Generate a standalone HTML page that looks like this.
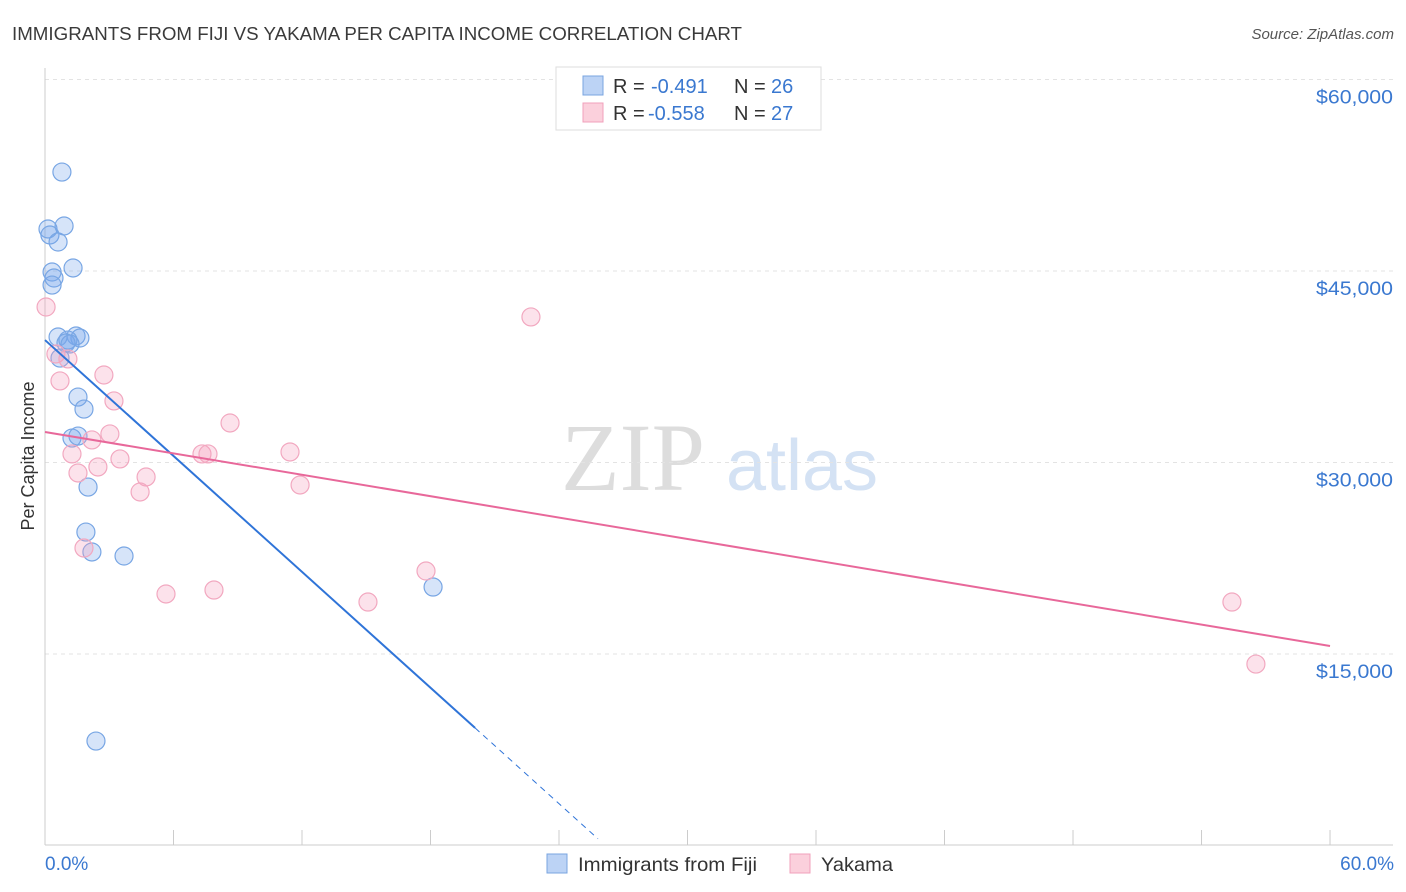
<!DOCTYPE html>
<html><head><meta charset="utf-8">
<style>
body{margin:0;background:#fff;font-family:"Liberation Sans",sans-serif;}
svg{display:block}
</style></head>
<body>
<svg id="chart" width="1406" height="892" xmlns="http://www.w3.org/2000/svg">
<text x="12" y="40" font-size="18" fill="#3a3a3a" textLength="730" lengthAdjust="spacingAndGlyphs">IMMIGRANTS FROM FIJI VS YAKAMA PER CAPITA INCOME CORRELATION CHART</text>
<text x="1394" y="39" font-size="15" font-style="italic" fill="#555" text-anchor="end">Source: ZipAtlas.com</text>
<g>
<text x="633" y="490" font-size="96" font-family="Liberation Serif" fill="#ddd" text-anchor="middle">ZIP</text>
<text x="802" y="490" font-size="72" fill="#d4e2f4" text-anchor="middle">atlas</text>
</g>
<g id="grid"></g>
<g id="axes"></g>
<g id="marks"></g>
<text transform="translate(34,456) rotate(-90)" font-size="18" fill="#333" text-anchor="middle">Per Capita Income</text>
<text x="45" y="870" font-size="19" fill="#3a78d0">0.0%</text>
<text x="1394" y="870" font-size="19" fill="#3a78d0" text-anchor="end">60.0%</text>
<g>
<rect x="556" y="67" width="265" height="63" fill="#fff" stroke="#ddd"/>
<rect x="583" y="76" width="20" height="19" fill="#bcd3f5" stroke="#7aa5e0"/>
<rect x="583" y="103" width="20" height="19" fill="#fbd0dc" stroke="#f0a0bb"/>
<text x="613" y="93" font-size="20" fill="#333">R =</text>
<text x="651" y="93" font-size="20" fill="#3a78d0">-0.491</text>
<text x="734" y="93" font-size="20" fill="#333">N =</text>
<text x="771" y="93" font-size="20" fill="#3a78d0">26</text>
<text x="613" y="120" font-size="20" fill="#333">R =</text>
<text x="648" y="120" font-size="20" fill="#3a78d0">-0.558</text>
<text x="734" y="120" font-size="20" fill="#333">N =</text>
<text x="771" y="120" font-size="20" fill="#3a78d0">27</text>
</g>
<g>
<rect x="547" y="854" width="20" height="19" fill="#bcd3f5" stroke="#7aa5e0"/>
<text x="578" y="871" font-size="19.5" fill="#333" textLength="179" lengthAdjust="spacingAndGlyphs">Immigrants from Fiji</text>
<rect x="790" y="854" width="20" height="19" fill="#fbd0dc" stroke="#f0a0bb"/>
<text x="821" y="871" font-size="19.5" fill="#333" textLength="72" lengthAdjust="spacingAndGlyphs">Yakama</text>
</g>
</svg>
<script>
const yTicks=[15000,30000,45000,60000];
const yTickLabels=["$15,000","$30,000","$45,000","$60,000"];
const xTicks=[0,6,12,18,24,30,36,42,48,54,60];
const fijiX=[0.79,0.14,0.23,0.61,0.89,1.31,0.33,0.42,0.33,0.61,1.45,1.63,1.07,0.98,1.17,0.70,1.54,1.82,1.26,1.54,2.01,1.91,2.19,3.69,18.12,2.38];
const fijiY=[52750,48290,47820,47270,48525,45235,44920,44450,43900,39830,39910,39750,39590,39360,39280,38180,35125,34185,31915,32070,28075,24550,22990,22675,20245,8180];
const yakX=[0.05,0.51,1.07,0.70,2.75,3.22,8.64,3.03,2.19,1.26,3.50,2.47,1.54,4.72,4.44,7.33,7.61,11.44,11.91,1.82,17.79,5.65,7.89,15.08,22.69,55.42,56.54];
const yakY=[42180,38500,38110,36390,36855,34820,33095,32235,31765,30670,30280,29650,29180,28865,27690,30670,30670,30825,28240,23300,21500,19700,20010,19070,41400,19070,14210];
const fijiTrend=[39590,-1513];
const yakTrend=[32390,-279.4];
const fijiSolidEnd=20.08, fijiDashEnd=25.82;
const xs=v=>45+v*21.417;
const ys=v=>79.5+(60000-v)/78.33;
const NS="http://www.w3.org/2000/svg";
function mk(tag,attrs,parent){const e=document.createElementNS(NS,tag);for(const k in attrs)e.setAttribute(k,attrs[k]);parent.appendChild(e);return e;}
const grid=document.getElementById('grid'),axes=document.getElementById('axes'),marks=document.getElementById('marks');
yTicks.forEach((t,i)=>{
  const l=mk('line',{x1:45,x2:1393,y1:ys(t),y2:ys(t),stroke:'#e3e3e3','stroke-dasharray':'4,4'},grid);
  
  
  const tx=mk('text',{x:1393,y:ys(t)+24,'font-size':19.5,fill:'#3a78d0','text-anchor':'end',textLength:77,lengthAdjust:'spacingAndGlyphs'},axes);
  tx.textContent=yTickLabels[i];
  
  
});
const ax=mk('line',{x1:45,x2:1393,y1:845,y2:845,stroke:'#ccc'},axes);


const ay=mk('line',{x1:45,x2:45,y1:68,y2:845,stroke:'#ccc'},axes);


xTicks.forEach(t=>{
  const l=mk('line',{x1:xs(t),x2:xs(t),y1:830,y2:845,stroke:'#ccc'},axes);
  
  
});
fijiX.forEach((x,i)=>{
  const c=mk('circle',{cx:xs(x),cy:ys(fijiY[i]),r:9,fill:'rgba(120,165,235,0.3)',stroke:'#78a6e4','stroke-width':1.2},marks);
  
  
});
yakX.forEach((x,i)=>{
  const c=mk('circle',{cx:xs(x),cy:ys(yakY[i]),r:9,fill:'rgba(245,160,190,0.3)',stroke:'#f2a8c0','stroke-width':1.2},marks);
  
  
});
const f=x=>fijiTrend[0]+fijiTrend[1]*x, g=x=>yakTrend[0]+yakTrend[1]*x;
const t1=mk('line',{x1:xs(0),y1:ys(f(0)),x2:xs(fijiSolidEnd),y2:ys(f(fijiSolidEnd)),stroke:'#2f74d8','stroke-width':2},marks);


const t2=mk('line',{x1:xs(fijiSolidEnd),y1:ys(f(fijiSolidEnd)),x2:xs(fijiDashEnd),y2:ys(f(fijiDashEnd)),stroke:'#2f74d8','stroke-width':1,'stroke-dasharray':'6,5'},marks);


const t3=mk('line',{x1:xs(0),y1:ys(g(0)),x2:xs(60),y2:ys(g(60)),stroke:'#e8689a','stroke-width':2},marks);


</script>
</body></html>
